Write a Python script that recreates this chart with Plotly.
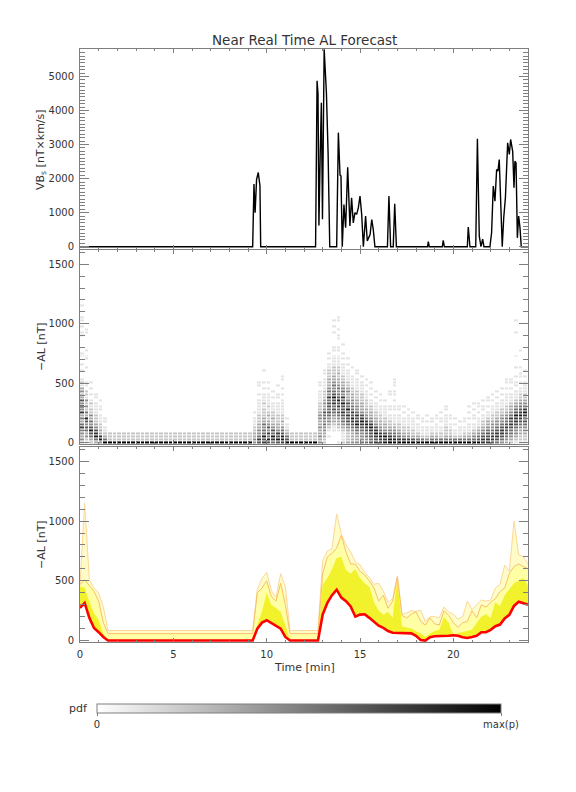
import plotly.graph_objects as go

# ---------------- data ----------------
# Top panel: VBs [nT x km/s] vs time
VBS_T = [0, 9.25, 9.32, 9.38, 9.46, 9.55, 9.64, 9.68, 12.62, 12.7, 12.75, 12.8, 12.87, 12.93,
         12.99, 13.08, 13.2, 13.29, 13.38, 13.75, 13.84, 13.93, 13.98, 14.05, 14.14, 14.23,
         14.34, 14.46, 14.55, 14.64, 14.73, 14.82, 14.91, 15.0, 15.09, 15.18, 15.3, 15.39,
         15.46, 15.54, 15.63, 15.71, 15.8, 16.47, 16.55, 16.64, 16.78, 16.86, 16.95, 18.62,
         18.66, 18.71, 19.41, 19.46, 19.52, 20.75, 20.8, 20.89, 21.2, 21.29, 21.39, 21.48,
         21.57, 21.64, 21.96, 22.05, 22.14, 22.23, 22.32, 22.39, 22.46, 22.54, 22.62, 22.7,
         22.79, 22.91, 23.0, 23.07, 23.18, 23.25, 23.3, 23.36, 23.43, 23.5, 23.57, 23.64, 24.0]
VBS_V = [0, 0, 1840, 1000, 1980, 2180, 1790, 0, 0, 4870, 4500, 620, 2770, 4230,
         810, 5800, 4530, 2770, 0, 0, 3350, 2100, 2080, 0, 1240, 560,
         2330, 610, 1440, 700, 1000, 950, 1140, 1490, 950, 0, 900, 170,
         260, 360, 800, 510, 0, 0, 1490, 0, 0, 1260, 0, 0,
         150, 0, 0, 190, 0, 0, 580, 0, 0, 3170, 310, 0,
         220, 0, 0, 410, 1780, 1340, 2270, 2220, 2560, 1440, 0, 850,
         1440, 3050, 2710, 3150, 2800, 1730, 2510, 2460, 260, 900, 560, 0, 0]

# Bottom panel: forecast statistics every 0.25 min from t = 0 to 24
T_START, T_STEP = 0.0, 0.25
AL_MODE = [273, 315, 190, 105, 70, 30] + [0] * 32 + \
          [100, 150, 170, 145, 120, 100, 30] + [0] * 7 + \
          [217, 315, 380, 426, 360, 330, 285, 200, 217, 220, 190, 160, 125, 106, 80, 66,
           64, 60, 58, 60, 40, 5, 0, 28, 36, 36, 38, 40, 45, 40, 28, 22, 30, 40, 70, 70,
           90, 120, 134, 185, 215, 290, 325, 310, 300]
AL_Q_MID = [454, 440, 329, 230, 170, 60] + [0] * 32 + \
           [130, 245, 400, 300, 273, 240, 130] + [0] * 7 + \
           [468, 524, 600, 690, 700, 590, 560, 600, 524, 480, 450, 320, 250, 217, 240, 190,
            520, 120, 110, 100, 78, 60, 30, 60, 80, 90, 200, 150, 50, 60, 70, 80, 90, 150, 200, 220,
            190, 320, 290, 380, 430, 480, 500, 524, 460]
AL_Q_HIGH = [468, 510, 460, 412, 330, 150] + [58] * 32 + \
            [400, 440, 500, 370, 330, 480, 300] + [58] * 7 + \
            [560, 700, 730, 774, 880, 740, 640, 640, 580, 550, 500, 440, 330, 380, 270, 330,
             530, 210, 190, 220, 240, 160, 130, 190, 140, 130, 250, 210, 150, 110, 150, 160, 250, 190, 300, 280,
             320, 350, 410, 440, 560, 620, 640, 620, 600]
AL_MAX = [468, 1150, 510, 440, 398, 280] + [84] * 32 + \
         [430, 520, 570, 420, 360, 560, 450] + [84] * 7 + \
         [670, 750, 770, 1060, 890, 800, 740, 660, 635, 570, 530, 470, 480, 412, 320, 350,
          540, 220, 230, 250, 245, 255, 160, 200, 200, 190, 280, 240, 220, 180, 200, 330, 260, 300, 340, 330,
          340, 440, 470, 630, 580, 1000, 720, 700, 640]

# Middle panel: pdf cells, one string per 0.25-min column, digit per 25-nT bin from 0 nT up
QUIET = "9222"
PDF_COLUMNS = [
    "2434 4753 5374 9463 2431 2100 1010 0110 0000 1101 0110 0010",
    "1243 5646 8352 4241 2201 1000 0100 1101 0000 0110 0",
    "2356 8645 3422 1210 1010 1",
    "3587 6432 2211 1101 1",
    "4873 3221 1101 101",
    "9532 1101 1",
] + [QUIET] * 31 + [
    "4433 2211 101",
    "6754 4332 2211 1110 1001 1",
    "7685 5453 3222 1211 1010 100 01",
    "6857 4643 2321 2111 1010 1",
    "5785 6432 3221 1101 01",
    "6867 4332 2211 1101 1001",
    "7886 5423 2211 1110 1010 011",
    "9653 2110 1",
] + [QUIET] * 6 + [
    "4343 3433 4432 2211 1101 1",
    "2233 4454 5564 3432 2211 1101 1",
    "0010 1234 4565 6657 4543 3322 2110 101",
    "0000 1123 3456 5768 6545 4332 2211 1101 1000 0101 01",
    "1000 1233 4565 7686 5454 3323 2211 1101 1001 1010 011",
    "2111 2345 5676 6857 4543 3221 1110 1010 01",
    "3222 3456 6758 5643 3432 2111 1010 1",
    "4333 4567 8675 5443 3221 1110 01",
    "4334 5687 6754 4332 2211 1101 1",
    "5444 5678 7643 3322 2111 101",
    "5455 6787 5433 2221 1101 01",
    "6566 7875 4332 2110 1010 1",
    "7678 7643 3221 1101 01",
    "7787 5433 2211 1010 1",
    "8786 4332 2111 1010",
    "9875 4322 1101 1000 11",
    "9865 4321 1101 1010 1101 11",
    "9754 3221 1101 1",
    "9743 2211 1010 1",
    "9743 2211 1101",
    "9632 2111 101",
    "9532 1110 11",
    "9521 1101 1",
    "9421 1101 01",
    "9532 1101 1",
    "9532 1110 11",
    "9522 1101 101",
    "9532 2211 1101 1",
    "9532 2110 11",
    "9521 1010 1",
    "9521 1101",
    "9532 1101 1",
    "9532 1110 1010 1",
    "9543 2110 1101 01",
    "9654 3211 1010 11",
    "7765 4322 1101 101",
    "7766 5433 2110 1011",
    "6776 5443 2211 1010 1",
    "5677 6544 3221 1101 01",
    "4567 7654 4322 1110 101",
    "3456 6765 5432 2111 1010 11",
    "2345 5676 7543 3211 1010 11",
    "1234 4567 7865 4321 1101 1010 0100 0100 0000 0100 01",
    "1223 3456 7876 5432 2110 1011 0100 0001",
    "1223 3456 6787 5432 2111 1010 1",
]
PDF_BIN_T0, PDF_BIN_DT = 0.125, 0.25
PDF_BIN_Y0, PDF_BIN_DY = 0, 25

X_TICKS = [0, 5, 10, 15, 20]
VBS_TICKS = [0, 1000, 2000, 3000, 4000, 5000]
AL_TICKS = [0, 500, 1000, 1500]

# ---------------- build pdf matrix ----------------
cols = [[int(c) for c in s.replace(" ", "")] for s in PDF_COLUMNS]
nrows = max(len(c) for c in cols)
Z = [[(c[r] if r < len(c) and c[r] > 0 else None) for c in cols] for r in range(nrows)]

# ---------------- layout geometry ----------------
# the page body adds an 8 px offset, so margins are set 8 px smaller on left/top
OFF = 8
W, H = 576, 792
ML, MR, MT, MB = 80 - OFF, 48 + OFF, 49 - OFF, 150 + OFF
PH = H - MT - MB
PW = W - ML - MR


def py(p):  # screen pixel y -> paper y
    return (H - MB - (p - OFF)) / PH


def pxx(p):  # screen pixel x -> paper x
    return (p - OFF - ML) / PW


FONT = "DejaVu Sans"
TXT = "#333333"
AXC = "#7f7f7f"

fig = go.Figure()

# top panel
fig.add_trace(go.Scatter(x=VBS_T, y=VBS_V, mode="lines", line=dict(color="black", width=1.4),
                         xaxis="x3", yaxis="y3", showlegend=False, hoverinfo="skip"))

# middle panel heatmap
fig.add_trace(go.Heatmap(z=Z, x0=PDF_BIN_T0, dx=PDF_BIN_DT, y0=PDF_BIN_Y0, dy=PDF_BIN_DY,
                         zmin=0, zmax=9, xgap=1, ygap=1,
                         colorscale=[[0, "#ffffff"], [1, "#000000"]],
                         xaxis="x2", yaxis="y2", hoverinfo="skip",
                         colorbar=dict(orientation="h", x=pxx(299), xanchor="center",
                                       y=py(704), yanchor="top", lenmode="pixels", len=404,
                                       thickness=9, xpad=0, ypad=0, outlinewidth=1,
                                       outlinecolor=AXC, tickmode="array", tickvals=[0, 9],
                                       ticktext=["0", "max(p)"], ticks="outside", ticklen=3,
                                       tickcolor=AXC, tickfont=dict(family=FONT, size=10, color=TXT))))

# bottom panel fills
common = dict(x0=T_START, dx=T_STEP, xaxis="x", yaxis="y", showlegend=False, hoverinfo="skip")
fig.add_trace(go.Scatter(y=AL_MODE, mode="lines", line=dict(width=0), **common))
fig.add_trace(go.Scatter(y=AL_MAX, mode="lines", line=dict(width=0), fill="tonexty",
                         fillcolor="#fffcc8", **common))
fig.add_trace(go.Scatter(y=AL_MODE, mode="lines", line=dict(width=0), **common))
fig.add_trace(go.Scatter(y=AL_Q_HIGH, mode="lines", line=dict(width=0), fill="tonexty",
                         fillcolor="#ffffa6", **common))
fig.add_trace(go.Scatter(y=AL_MODE, mode="lines", line=dict(width=0), **common))
fig.add_trace(go.Scatter(y=AL_Q_MID, mode="lines", line=dict(width=0), fill="tonexty",
                         fillcolor="#f2f22c", **common))
fig.add_trace(go.Scatter(y=AL_MAX, mode="lines", line=dict(color="#fdd79a", width=1), **common))
fig.add_trace(go.Scatter(y=AL_Q_HIGH, mode="lines", line=dict(color="#f9bf6a", width=1), **common))
fig.add_trace(go.Scatter(y=AL_MODE, mode="lines", line=dict(color="#ff0000", width=2.6), **common))

AX = dict(showline=True, linecolor=AXC, linewidth=1, mirror="allticks", ticks="inside",
          tickcolor=AXC, showgrid=False, zeroline=False, ticklabelstandoff=3,
          tickfont=dict(family=FONT, size=10, color=TXT))
XAX = dict(AX, range=[0, 24], tickmode="array", tickvals=X_TICKS, ticklen=4,
           minor=dict(dtick=1, tick0=0, ticklen=2, ticks="inside", tickcolor=AXC))
YMINOR = dict(dtick=100, tick0=0, ticklen=5, ticks="inside", tickcolor=AXC)
fig.update_layout(
    width=W, height=H, margin=dict(l=ML, r=MR, t=MT, b=MB),
    paper_bgcolor="white", plot_bgcolor="white", showlegend=False,
    xaxis=dict(XAX, anchor="y", domain=[0, 1]),
    xaxis2=dict(XAX, anchor="y2", domain=[0, 1], showticklabels=False, matches="x"),
    xaxis3=dict(XAX, anchor="y3", domain=[0, 1], showticklabels=False, matches="x"),
    yaxis=dict(AX, domain=[0, py(447)], range=[-12, 1620], tickmode="array", tickvals=AL_TICKS,
               ticklen=9, minor=YMINOR),
    yaxis2=dict(AX, domain=[py(444), py(250)], range=[-12, 1620], tickmode="array", tickvals=AL_TICKS,
                ticklen=9, minor=YMINOR),
    yaxis3=dict(AX, domain=[py(249), 1.0], range=[-67, 5806], tickmode="array", tickvals=VBS_TICKS,
                ticklen=9, minor=YMINOR),
)

ANN = [
    ("Near Real Time AL Forecast", 304, 40, 0, "center", 13.5),
    ("VB<sub>s</sub> [nT×km/s]", 41, 150, -90, "center", 11),
    ("−AL [nT]", 41, 347, -90, "center", 11),
    ("−AL [nT]", 41, 545, -90, "center", 11),
    ("Time [min]", 304, 667, 0, "center", 11),
    ("pdf", 90, 708, 0, "right", 11),
]
for text, xp, yp, ang, xa, fs in ANN:
    fig.add_annotation(xref="paper", yref="paper", showarrow=False, text=text,
                       x=pxx(xp), y=py(yp), xanchor=xa, yanchor="middle", textangle=ang,
                       font=dict(family=FONT, size=fs, color=TXT))

fig.write_html("out.html")
